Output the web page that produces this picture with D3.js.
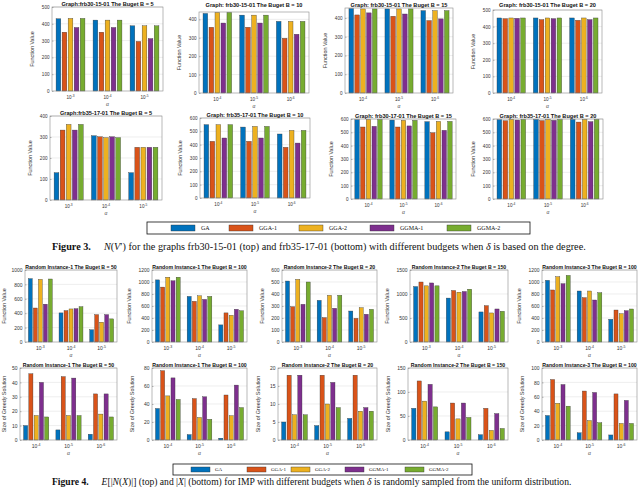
<!DOCTYPE html>
<html>
<head>
<meta charset="utf-8">
<script src="https://cdn.jsdelivr.net/npm/d3@7"></script>
<style>
  body { margin: 0; background: #fff; }
  text { font-family: "Liberation Sans", Arial, sans-serif; }
  .serif { font-family: "Liberation Serif", "Times New Roman", serif; }
</style>
</head>
<body>
<svg id="fig" width="640" height="487"></svg>
<script>
const series = ["GA", "GGA-1", "GGA-2", "GGMA-1", "GGMA-2"];
const colors = ["#0072BD", "#D95319", "#EDB120", "#7E2F8E", "#77AC30"];
const exps345 = ["-3", "-4", "-5"];
const exps456 = ["-4", "-5", "-6"];

// Figure 3 - frb30-15-01 (top row)
const frb30B5  = [[430, 350, 432, 378, 432], [422, 350, 422, 378, 422], [388, 295, 388, 312, 388]];
const frb30B10 = [[432, 357, 438, 380, 438], [423, 357, 423, 380, 423], [389, 297, 389, 319, 389]];
const frb30B15 = [[450, 416, 448, 427, 448], [448, 409, 448, 421, 448], [439, 386, 439, 395, 439]];
const frb30B20 = [[452, 448, 452, 450, 452], [452, 442, 452, 448, 452], [452, 438, 452, 442, 452]];
// Figure 3 - frb35-17-01 (bottom row)
const frb35B5  = [[130, 333, 360, 333, 360], [306, 301, 297, 301, 297], [130, 251, 251, 251, 251]];
const frb35B10 = [[550, 425, 550, 450, 550], [532, 425, 537, 450, 537], [480, 380, 507, 412, 507]];
const frb35B15 = [[595, 540, 597, 545, 597], [592, 540, 590, 548, 590], [580, 497, 582, 515, 582]];
const frb35B20 = [[595, 587, 597, 592, 597], [597, 588, 597, 590, 597], [597, 577, 597, 580, 597]];

// Figure 4 - function value
const ri1B50fv  = [[880, 472, 870, 525, 875], [404, 436, 459, 463, 490], [170, 380, 275, 380, 321]];
const ri1B100fv = [[1035, 915, 1080, 1020, 1080], [760, 678, 770, 710, 760], [285, 485, 445, 545, 520]];
const ri2B20fv  = [[508, 294, 522, 314, 500], [347, 203, 389, 281, 389], [258, 197, 286, 231, 272]];
const ri2B150fv = [[1155, 1250, 1170, 1230, 1170], [915, 1073, 1038, 1052, 1100], [626, 757, 605, 688, 640]];
const ri3B100fv = [[1028, 867, 1089, 972, 1110], [850, 739, 850, 700, 822], [378, 533, 472, 522, 550]];
// Figure 4 - size of greedy solution
const ri1B50sz  = [[10, 46, 17, 40, 16], [7, 44, 17, 43, 17], [4, 32, 18, 32, 16]];
const ri1B100sz = [[35, 77, 49, 69, 45], [6, 46, 25, 48, 23], [2, 50, 27, 61, 36]];
const ri2B20sz  = [[5, 18, 7, 18, 7], [4, 18, 10, 16, 9], [6, 18, 8, 9, 8]];
const ri2B150sz = [[66, 123, 81, 116, 69], [17, 77, 44, 77, 47], [11, 66, 20, 55, 24]];
const ri3B100sz = [[34, 84, 51, 77, 47], [10, 68, 27, 66, 24], [7, 64, 23, 55, 23]];

const svg = d3.select("#fig");

const panels = [
  { box: [52, 7, 163, 91],   title: "Graph:frb30-15-01 The Buget B = 5",  yMax: 500, step: 100, exps: exps345, data: frb30B5,  ylab: "Function Value", fig: 3 },
  { box: [199, 12, 309, 93], title: "Graph: frb30-15-01 The Buget B = 10", yMax: 440, step: 100, exps: exps456, data: frb30B10, ylab: "Function Value", fig: 3, ty: 5 },
  { box: [345, 8, 453, 93],  title: "Graph: frb30-15-01 The Buget B = 15", yMax: 453, step: 100, exps: exps456, data: frb30B15, ylab: "Function Value", fig: 3, ty: 5 },
  { box: [493, 10, 602, 93], title: "Graph: frb30-15-01 The Buget B = 20", yMax: 500, step: 100, exps: exps456, data: frb30B20, ylab: "Function Value", fig: 3, ty: 5 },
  { box: [50, 116, 162, 200],  title: "Graph:frb35-17-01 The Buget B = 5",  yMax: 400, step: 100, exps: exps345, data: frb35B5,  ylab: "Function Value", fig: 3 },
  { box: [200, 118, 310, 198], title: "Graph: frb35-17-01 The Buget B = 10", yMax: 600, step: 100, exps: exps456, data: frb35B10, ylab: "Function Value", fig: 3 },
  { box: [351, 119, 456, 199], title: "Graph: frb30-17-01 The Buget B = 15", yMax: 600, step: 100, exps: exps456, data: frb35B15, ylab: "Function Value", fig: 3 },
  { box: [493, 119, 603, 199], title: "Graph: frb35-17-01 The Buget B = 20", yMax: 600, step: 100, exps: exps456, data: frb35B20, ylab: "Function Value", fig: 3 },

  { box: [25, 270, 117, 342],  title: "Random Instance-1 The Buget B = 50",  yMax: 1000, step: 200, exps: exps345, data: ri1B50fv,  ylab: "Function Value", fig: 4 },
  { box: [152, 270, 247, 342], title: "Random Instance-1 The Buget B = 100", yMax: 1200, step: 200, exps: exps345, data: ri1B100fv, ylab: "Function Value", fig: 4 },
  { box: [282, 270, 377, 342], title: "Random Instance-2 The Buget B = 20",  yMax: 600,  step: 100, exps: exps345, data: ri2B20fv,  ylab: "Function Value", fig: 4 },
  { box: [410, 270, 508, 342], title: "Random Instance-2 The Buget B = 150", yMax: 1500, step: 500, exps: exps345, data: ri2B150fv, ylab: "Function Value", fig: 4 },
  { box: [542, 270, 637, 342], title: "Random Instance-3 The Buget B = 100", yMax: 1200, step: 200, exps: exps345, data: ri3B100fv, ylab: "Function Value", fig: 4 },

  { box: [20, 368, 117, 440],  title: "Random Instance-1 The Buget B = 50",  yMax: 50,  step: 10, exps: exps456, data: ri1B50sz,  ylab: "Size of Greedy Solution", fig: 4 },
  { box: [152, 368, 247, 440], title: "Random Instance-1 The Buget B = 100", yMax: 80,  step: 20, exps: exps456, data: ri1B100sz, ylab: "Size of Greedy Solution", fig: 4 },
  { box: [278, 368, 377, 440], title: "Random Instance-2 The Buget B = 20",  yMax: 20,  step: 5,  exps: exps456, data: ri2B20sz,  ylab: "Size of Greedy Solution", fig: 4 },
  { box: [408, 368, 508, 440], title: "Random Instance-2 The Buget B = 150", yMax: 150, step: 50, exps: exps456, data: ri2B150sz, ylab: "Size of Greedy Solution", fig: 4 },
  { box: [542, 368, 637, 440], title: "Random Instance-3 The Buget B = 100", yMax: 100, step: 20, exps: exps456, data: ri3B100sz, ylab: "Size of Greedy Solution", fig: 4 }
];

panels.forEach(drawPanel);

function drawPanel(p) {
  const [x0, y0, x1, y1] = p.box;
  const groups = [0, 1, 2];
  const tickFont = p.fig === 3 ? 4.6 : 5;

  const x = d3.scaleBand().domain(groups).range([x0, x1])
    .paddingInner(0.22).paddingOuter(0.11);
  const xs = d3.scaleBand().domain(d3.range(series.length)).range([0, x.bandwidth()])
    .paddingInner(0.22);
  const y = d3.scaleLinear().domain([0, p.yMax]).range([y1, y0]);
  const ticks = d3.range(0, p.yMax + 0.001, p.step);

  const g = svg.append("g");

  // grid
  g.selectAll(".grid").data(ticks.slice(1)).enter().append("line")
    .attr("x1", x0).attr("x2", x1)
    .attr("y1", d => y(d)).attr("y2", d => y(d))
    .attr("stroke", "#e2e2e2").attr("stroke-width", 0.6);

  // bars
  p.data.forEach((vals, gi) => {
    g.selectAll(null).data(vals).enter().append("rect")
      .attr("x", (d, i) => x(gi) + xs(i))
      .attr("y", d => y(d))
      .attr("width", xs.bandwidth())
      .attr("height", d => y1 - y(d))
      .attr("fill", (d, i) => colors[i])
      .attr("stroke", "#333")
      .attr("stroke-width", 0.35);
  });

  // box
  g.append("rect")
    .attr("x", x0).attr("y", y0)
    .attr("width", x1 - x0).attr("height", y1 - y0)
    .attr("fill", "none").attr("stroke", "#8a8a8a").attr("stroke-width", 0.6);

  // y axis
  const yAxis = g.append("g")
    .attr("transform", `translate(${x0},0)`)
    .call(d3.axisLeft(y).tickValues(ticks).tickSize(-1.5).tickPadding(2.5).tickFormat(d3.format("d")));
  yAxis.select(".domain").remove();
  yAxis.selectAll("line").attr("stroke", "#777").attr("stroke-width", 0.5);
  yAxis.selectAll("text").style("font-size", tickFont + "px").attr("fill", "#333");

  // x tick labels 10^-k
  groups.forEach(gi => {
    const t = g.append("text")
      .attr("x", x(gi) + x.bandwidth() / 2)
      .attr("y", y1 + 8)
      .attr("text-anchor", "middle")
      .style("font-size", tickFont + "px")
      .attr("fill", "#333")
      .text("10");
    t.append("tspan")
      .attr("dy", -2)
      .style("font-size", (tickFont * 0.7) + "px")
      .text(p.exps[gi]);
  });

  // alpha label
  g.append("text")
    .attr("x", (x0 + x1) / 2)
    .attr("y", y1 + 15)
    .attr("text-anchor", "middle")
    .style("font-size", "5px")
    .style("font-style", "italic")
    .attr("fill", "#444")
    .text("α");

  // y label
  const lx = Math.max(x0 - (p.yMax >= 1000 ? 21 : 18), 5.5);
  g.append("text")
    .attr("transform", `translate(${lx},${(y0 + y1) / 2}) rotate(-90)`)
    .attr("text-anchor", "middle")
    .style("font-size", "5.4px")
    .attr("fill", "#333")
    .text(p.ylab);

  // title
  g.append("text")
    .attr("x", (x0 + x1) / 2)
    .attr("y", p.ty !== undefined ? p.ty + 2 : y0 - 1.5)
    .attr("text-anchor", "middle")
    .style("font-size", p.fig === 3 ? "5.6px" : "5.2px")
    .style("font-weight", "bold")
    .attr("fill", "#111")
    .text(p.title);
}

// legends
function drawLegend(box, swX, swW, swH, txtOff, fs) {
  const [bx0, by0, bx1, by1] = box;
  const cy = (by0 + by1) / 2;
  svg.append("rect")
    .attr("x", bx0).attr("y", by0)
    .attr("width", bx1 - bx0).attr("height", by1 - by0)
    .attr("fill", "#fff").attr("stroke", "#111").attr("stroke-width", 0.8);
  series.forEach((s, i) => {
    svg.append("rect")
      .attr("x", swX[i]).attr("y", cy - swH / 2)
      .attr("width", swW).attr("height", swH)
      .attr("fill", colors[i]).attr("stroke", "#333").attr("stroke-width", 0.4);
    svg.append("text")
      .attr("class", "serif")
      .attr("x", swX[i] + swW + txtOff).attr("y", cy + fs * 0.35)
      .style("font-size", fs + "px")
      .attr("fill", "#111")
      .text(s);
  });
}

drawLegend([147, 222, 530, 234], [171, 229, 299, 370, 447], 24, 6, 6, 6);
drawLegend([173, 464, 472, 475], [191, 247, 291, 345, 405], 19, 5, 5, 5);

// captions
function caption(yPos, fs, gap, label, parts) {
  const t = svg.append("text")
    .attr("class", "serif")
    .attr("x", 52).attr("y", yPos)
    .style("font-size", fs + "px")
    .attr("fill", "#111");
  t.append("tspan").style("font-weight", "bold").text(label);
  parts.forEach((pt, i) => {
    const ts = t.append("tspan").style("font-style", pt.i ? "italic" : "normal").text(pt.t);
    if (i === 0) ts.attr("dx", gap);
  });
}

caption(250, 10.2, 13, "Figure 3.", [
  { t: "N", i: true }, { t: "(" }, { t: "V", i: true }, { t: "′) for the graphs frb30-15-01 (top) and frb35-17-01 (bottom) with different budgets when " },
  { t: "δ", i: true }, { t: " is based on the degree." }
]);

caption(484.5, 9.6, 13, "Figure 4.", [
  { t: "E", i: true }, { t: "[|" }, { t: "N", i: true }, { t: "(" }, { t: "X", i: true }, { t: ")|] (top) and |" }, { t: "X", i: true },
  { t: "| (bottom) for IMP with different budgets when " }, { t: "δ", i: true }, { t: " is randomly sampled from the uniform distribution." }
]);
</script>
</body>
</html>
